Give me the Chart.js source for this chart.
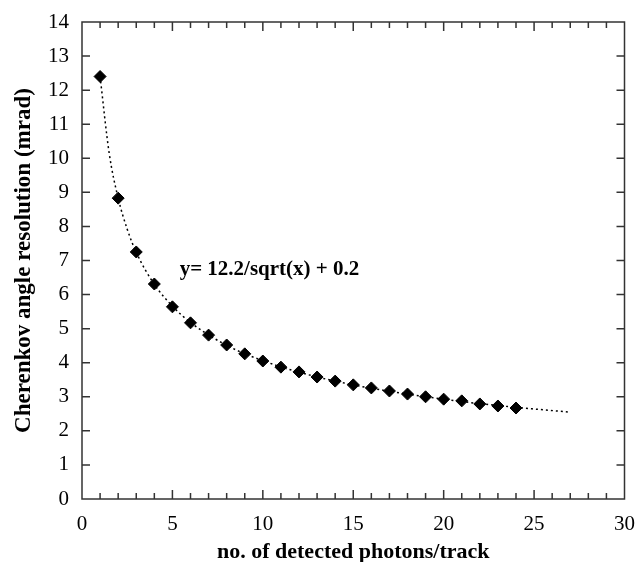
<!DOCTYPE html>
<html>
<head>
<meta charset="utf-8">
<script src="https://cdn.jsdelivr.net/npm/chart.js@4"></script>
<style>
  html, body { margin: 0; padding: 0; background: #fff; }
</style>
</head>
<body>
<canvas id="resChart" width="640" height="562"></canvas>
<script>
// measured points: photons per track vs. angle resolution
const photons = [1, 2, 3, 4, 5, 6, 7, 8, 9, 10, 11, 12, 13, 14, 15, 16, 17, 18, 19, 20, 21, 22, 23, 24];
const resolution = [12.4, 8.83, 7.25, 6.31, 5.64, 5.17, 4.81, 4.52, 4.26, 4.05, 3.87, 3.73, 3.58, 3.46, 3.35, 3.26, 3.17, 3.08, 3.0, 2.93, 2.88, 2.79, 2.73, 2.67];

// fitted curve
const fitX = [1, 1.5, 2, 2.5, 3, 4, 5, 6, 8, 10, 12, 15, 18, 21, 24, 27];
const fitY = [12.4, 10.16, 8.83, 7.92, 7.24, 6.3, 5.66, 5.18, 4.51, 4.06, 3.72, 3.35, 3.08, 2.86, 2.69, 2.55];

const fitLabel = 'y= 12.2/sqrt(x) + 0.2';
const xTicks = [0, 5, 10, 15, 20, 25, 30];
const yTicks = [0, 1, 2, 3, 4, 5, 6, 7, 8, 9, 10, 11, 12, 13, 14];

const serif = '"Liberation Serif", "DejaVu Serif", serif';

// frame, inward ticks and the fit label
const framePlugin = {
    id: 'frame',
    afterDatasetsDraw(chart) {
        const ctx = chart.ctx;
        const a = chart.chartArea;
        const xs = chart.scales.x, ys = chart.scales.y;
        ctx.save();
        ctx.strokeStyle = '#333';
        ctx.lineWidth = 1.5;
        ctx.strokeRect(a.left, a.top, a.right - a.left, a.bottom - a.top);
        ctx.beginPath();
        for (let v = 1; v < 30; v++) {
            const px = xs.getPixelForValue(v);
            const len = v % 5 === 0 ? 9 : 6;
            ctx.moveTo(px, a.bottom); ctx.lineTo(px, a.bottom - len);
            ctx.moveTo(px, a.top); ctx.lineTo(px, a.top + len);
        }
        for (let v = 1; v < 14; v++) {
            const py = ys.getPixelForValue(v);
            ctx.moveTo(a.left, py); ctx.lineTo(a.left + 8, py);
            ctx.moveTo(a.right, py); ctx.lineTo(a.right - 8, py);
        }
        ctx.stroke();
        ctx.fillStyle = '#000';
        ctx.font = 'bold 21px ' + serif;
        ctx.textAlign = 'left';
        ctx.textBaseline = 'middle';
        ctx.fillText(fitLabel, xs.getPixelForValue(5.4), ys.getPixelForValue(6.72));
        ctx.restore();
    }
};

const ctx = document.getElementById('resChart').getContext('2d');
new Chart(ctx, {
    type: 'scatter',
    data: {
        datasets: [
            {
                label: 'fit',
                data: fitX.map((x, i) => ({ x: x, y: fitY[i] })),
                showLine: true,
                borderColor: '#000',
                borderWidth: 1.5,
                borderDash: [2, 3],
                cubicInterpolationMode: 'monotone',
                pointRadius: 0,
                order: 2
            },
            {
                label: 'data',
                data: photons.map((x, i) => ({ x: x, y: resolution[i] })),
                pointStyle: 'rectRot',
                pointRadius: 6,
                backgroundColor: '#000',
                borderColor: '#000',
                order: 1
            }
        ]
    },
    options: {
        responsive: false,
        animation: false,
        layout: { padding: { top: 22, right: 13, left: 0, bottom: 0 } },
        scales: {
            x: {
                type: 'linear',
                min: 0, max: 30,
                afterFit: s => { s.height = 63; },
                afterBuildTicks: s => { s.ticks = xTicks.map(v => ({ value: v })); },
                grid: { display: false },
                border: { display: false },
                ticks: { color: '#000', padding: 5, font: { family: serif, size: 21 } },
                title: {
                    display: true,
                    text: 'no. of detected photons/track',
                    color: '#000',
                    padding: { top: 0, bottom: -4 },
                    font: { family: serif, size: 22, weight: 'bold' }
                }
            },
            y: {
                type: 'linear',
                min: 0, max: 14,
                afterFit: s => { s.width = 82; },
                afterBuildTicks: s => { s.ticks = yTicks.map(v => ({ value: v })); },
                grid: { display: false },
                border: { display: false },
                ticks: { color: '#000', padding: 5, font: { family: serif, size: 21 } },
                title: {
                    display: true,
                    text: 'Cherenkov angle resolution (mrad)',
                    color: '#000',
                    padding: { top: 10, bottom: 0 },
                    font: { family: serif, size: 23, weight: 'bold' }
                }
            }
        },
        plugins: {
            legend: { display: false },
            tooltip: { enabled: false }
        }
    },
    plugins: [framePlugin]
});
</script>
</body>
</html>
